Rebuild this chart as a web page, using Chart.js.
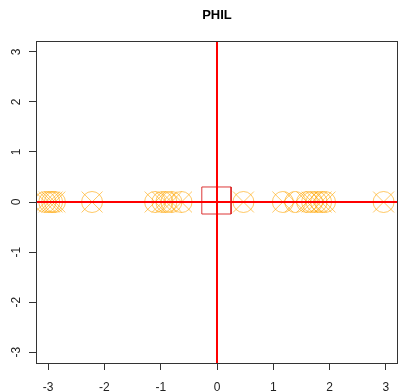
<!DOCTYPE html>
<html>
<head>
<meta charset="utf-8">
<script src="https://cdn.jsdelivr.net/npm/chart.js@4"></script>
<style>
  html, body { margin: 0; padding: 0; background: #fff; }
  #wrap { width: 399px; height: 392px; }
</style>
</head>
<body>
<div id="wrap"><canvas id="philChart" width="399" height="392"></canvas></div>
<script>
// data
const chartTitle = 'PHIL';
const pointX = [-3.05, -2.98, -2.93, -2.88, -2.22, -1.10, -0.97, -0.90, -0.81, -0.63,
                0.47, 1.17, 1.39, 1.60, 1.69, 1.77, 1.85, 1.92, 2.96];
const pointY = pointX.map(() => 0);
const xTicks = [-3, -2, -1, 0, 1, 2, 3];
const yTicks = [-3, -2, -1, 0, 1, 2, 3];
const axisMin = -3.216;
const axisMax = 3.216;
const squareX = [-0.27, 0.25, 0.25, -0.27, -0.27];
const squareY = [0.30, 0.30, -0.24, -0.24, 0.30];
const refLineV = { x: [0, 0], y: [axisMin, axisMax] };
const refLineH = { x: [axisMin, axisMax], y: [0, 0] };

const orange = 'rgba(255,165,0,0.6)';
const fontFamily = '"Liberation Sans", Arial, sans-serif';

const points = pointX.map((x, i) => ({ x: x, y: pointY[i] }));
const zip = (xs, ys) => xs.map((x, i) => ({ x: x, y: ys[i] }));

// box, title and rotated y labels like base R
const rStyle = {
  id: 'rStyle',
  afterDraw(chart) {
    const { ctx, chartArea: a, scales } = chart;
    ctx.save();
    ctx.strokeStyle = '#333';
    ctx.lineWidth = 1;
    ctx.strokeRect(Math.round(a.left) + 0.5, Math.round(a.top) + 0.5,
      Math.round(a.right - a.left) - 1, Math.round(a.bottom - a.top));

    ctx.fillStyle = '#000';
    ctx.font = 'bold 13px ' + fontFamily;
    ctx.textAlign = 'center';
    ctx.textBaseline = 'middle';
    ctx.fillText(chartTitle, (a.left + a.right) / 2, 15);

    ctx.fillStyle = '#222';
    ctx.font = '12px ' + fontFamily;
    yTicks.forEach(v => {
      const py = scales.y.getPixelForValue(v);
      ctx.save();
      ctx.translate(17, py);
      ctx.rotate(-Math.PI / 2);
      ctx.fillText(String(v), 0, 0);
      ctx.restore();
    });
    ctx.restore();
  }
};

new Chart(document.getElementById('philChart'), {
  type: 'scatter',
  data: {
    datasets: [{
      data: zip(refLineV.x, refLineV.y),
      showLine: true, borderColor: '#f00', borderWidth: 2, pointRadius: 0
    }, {
      data: zip(refLineH.x, refLineH.y),
      showLine: true, borderColor: '#f00', borderWidth: 2, pointRadius: 0
    }, {
      data: zip(squareX, squareY),
      showLine: true, borderColor: 'rgba(215,20,20,0.85)', borderWidth: 1, pointRadius: 0
    }, {
      data: points,
      pointStyle: 'circle', pointRadius: 10.5, pointBorderWidth: 1,
      pointBorderColor: orange, pointBackgroundColor: 'rgba(0,0,0,0)'
    }, {
      data: points,
      pointStyle: 'crossRot', pointRadius: 14.8, pointBorderWidth: 1,
      pointBorderColor: orange, pointBackgroundColor: 'rgba(0,0,0,0)'
    }]
  },
  options: {
    responsive: false,
    animation: false,
    layout: { autoPadding: false, padding: { top: 41, right: 1, left: 0, bottom: 0 } },
    plugins: {
      legend: { display: false },
      title: { display: false },
      tooltip: { enabled: false }
    },
    scales: {
      x: {
        type: 'linear', min: axisMin, max: axisMax,
        afterBuildTicks: s => { s.ticks = xTicks.map(v => ({ value: v })); },
        afterFit: s => { s.height = 29; s.paddingLeft = 0; s.paddingRight = 0; },
        grid: { drawOnChartArea: false, drawTicks: true, tickLength: 7, tickColor: '#333' },
        border: { display: false },
        ticks: { color: '#222', padding: 10, font: { size: 12, family: fontFamily }, maxRotation: 0 }
      },
      y: {
        type: 'linear', min: axisMin, max: axisMax,
        afterBuildTicks: s => { s.ticks = yTicks.map(v => ({ value: v })); },
        afterFit: s => { s.width = 36; s.paddingTop = 0; s.paddingBottom = 0; },
        grid: { drawOnChartArea: false, drawTicks: true, tickLength: 7, tickColor: '#333' },
        border: { display: false },
        ticks: { display: false }
      }
    }
  },
  plugins: [rStyle]
});
</script>
</body>
</html>
